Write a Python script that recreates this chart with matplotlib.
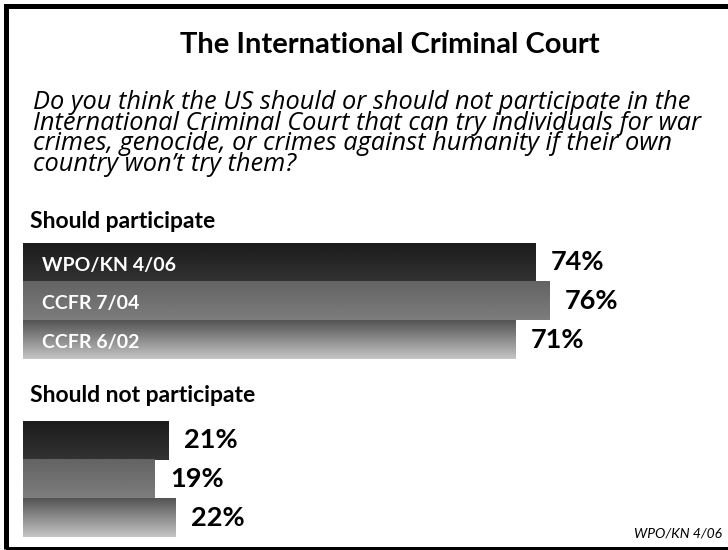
import numpy as np
import matplotlib
matplotlib.use("Agg")
from matplotlib import pyplot as plt
from matplotlib.patches import Rectangle

# data
surveys = ["WPO/KN 4/06", "CCFR 7/04", "CCFR 6/02"]
should_participate = [74, 76, 71]
should_not_participate = [21, 19, 22]

# gradient (top, bottom) grey levels per survey
grad_top = [0.11, 0.39, 0.33]
grad_bottom = [0.20, 0.49, 0.77]

W, H = 728, 550
plt.rcParams["font.family"] = ["Lato", "DejaVu Sans"]

fig = plt.figure(figsize=(W / 100, H / 100), dpi=100)


def fx(px):
    return px / W


def fy(py):
    return 1 - py / H


# frame
fig.patches.append(Rectangle((fx(6), fy(549)), fx(740), fy(6) - fy(549),
                             transform=fig.transFigure, fill=False,
                             edgecolor="black", linewidth=3.6))

fig.text(fx(390), fy(45), "The International Criminal Court", ha="center",
         va="center", fontsize=21, fontweight="bold")

question = ["Do you think the US should or should not participate in the",
            "International Criminal Court that can try individuals for war",
            "crimes, genocide, or crimes against humanity if their own",
            "country won\u2019t try them?"]
# multi-line text: baseline refers to the last line
fig.text(fx(33), fy(170.5), "\n".join(question), ha="left", va="baseline",
         fontsize=18.3, fontstyle="italic", linespacing=0.76,
         family=["Open Sans", "DejaVu Sans"])

fig.text(fx(30), fy(228), "Should participate", ha="left", va="baseline",
         fontsize=16.5, fontweight="bold")
fig.text(fx(30), fy(402), "Should not participate", ha="left", va="baseline",
         fontsize=16.5, fontweight="bold")

fig.text(fx(722), fy(537), "WPO/KN 4/06", ha="right", va="baseline",
         fontsize=10, fontstyle="italic")


def draw_group(top_px, bottom_px, values, with_labels):
    ax = fig.add_axes([fx(23), fy(bottom_px), fx(23 + 693) - fx(23),
                       fy(top_px) - fy(bottom_px)])
    ax.set_xlim(0, 100)
    ax.set_ylim(len(values) - 0.5, -0.5)
    ax.axis("off")
    bars = ax.barh(range(len(values)), values, height=1.0, color="none")
    for i, (bar, v) in enumerate(zip(bars, values)):
        y0 = bar.get_y()
        y1 = y0 + bar.get_height()
        grad = np.linspace(grad_top[i], grad_bottom[i], 64).reshape(-1, 1)
        ax.imshow(grad, cmap="gray", vmin=0, vmax=1, aspect="auto",
                  extent=(0, v, y1, y0), interpolation="bilinear", zorder=1)
        ax.annotate(f"{v}%", xy=(v, i), xytext=(11, 0),
                    textcoords="offset points", ha="left", va="center",
                    fontsize=19.5, fontweight="bold")
        if with_labels:
            ax.annotate(surveys[i], xy=(0, i), xytext=(13.5, -2),
                        textcoords="offset points", ha="left", va="center",
                        fontsize=14, fontweight="bold", color="white")
    ax.set_xlim(0, 100)
    ax.set_ylim(len(values) - 0.5, -0.5)


draw_group(243, 359, should_participate, True)
draw_group(421, 537, should_not_participate, False)

fig.savefig("out.png", dpi=100)
